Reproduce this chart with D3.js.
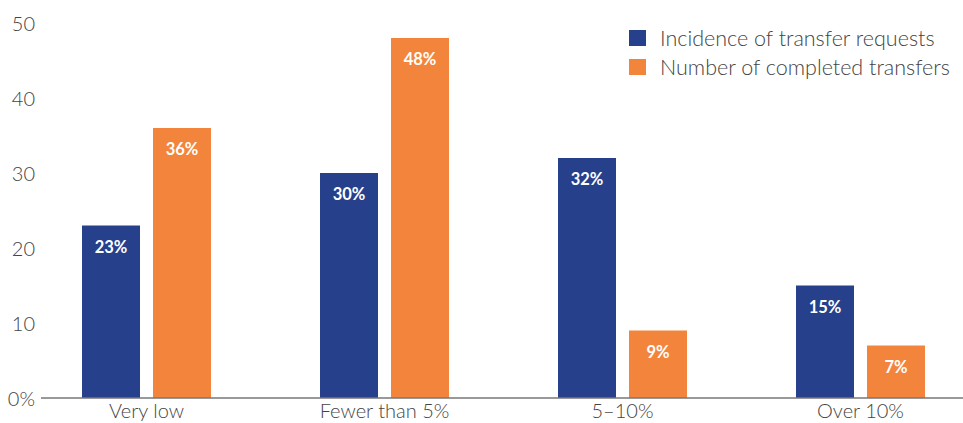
<!DOCTYPE html>
<html>
<head>
<meta charset="utf-8">
<script src="https://cdn.jsdelivr.net/npm/d3@7"></script>
<style>
  html, body { margin: 0; padding: 0; background: #fff; }
  svg { display: block; }
  text { font-family: Lato, "Open Sans", sans-serif; }
</style>
</head>
<body>
<svg id="chart" width="963" height="423"></svg>
<script>
// Share of respondents by transfer rate band
const categories = ["Very low", "Fewer than 5%", "5\u201310%", "Over 10%"];
const seriesNames = ["Incidence of transfer requests", "Number of completed transfers"];
const requests = [23, 30, 32, 15];
const completed = [36, 48, 9, 7];
const yTicks = [0, 10, 20, 30, 40, 50];
const yTickLabels = ["0%", "10", "20", "30", "40", "50"];
const colors = ["#26408b", "#f3843c"];

const svg = d3.select("#chart");
const baseY = 398, topY = 23;

const y = d3.scaleLinear().domain([0, 50]).range([baseY, topY]);

// One band per category, bars paired inside each band
const x = d3.scaleBand().domain(categories).range([27.5, 979.5]).paddingInner(0).paddingOuter(0);
const step = x.bandwidth();
const groupW = 129;
const xs = d3.scaleBand().domain(seriesNames)
  .range([step / 2 - groupW / 2, step / 2 + groupW / 2])
  .paddingInner(13 / 71);

const rows = categories.map((c, i) => ({ cat: c, vals: [requests[i], completed[i]] }));

// Y axis labels (no axis line)
const yAxis = d3.axisLeft(y).tickValues(yTicks).tickFormat((d, i) => yTickLabels[i]).tickSize(0).tickPadding(0);
const yg = svg.append("g").attr("transform", "translate(35,0)").call(yAxis);
yg.select(".domain").remove();
yg.selectAll("text")
  .attr("fill", "#444")
  .style("font-size", "20px")
  .style("font-weight", "300")
  .style("font-family", "Lato, sans-serif")
  .attr("dy", "0.35em");

// Bars
const groups = svg.selectAll("g.cat").data(rows).join("g")
  .attr("class", "cat")
  .attr("transform", d => `translate(${x(d.cat)},0)`);

const cells = d => d.vals.map((v, j) => ({ v, s: seriesNames[j], j }));

groups.selectAll("rect").data(cells).join("rect")
  .attr("x", d => xs(d.s))
  .attr("width", xs.bandwidth())
  .attr("y", d => y(d.v))
  .attr("height", d => baseY - y(d.v))
  .attr("fill", d => colors[d.j]);

groups.selectAll("text.val").data(cells).join("text")
  .attr("class", "val")
  .attr("x", d => xs(d.s) + xs.bandwidth() / 2)
  .attr("y", d => y(d.v) + 27)
  .attr("text-anchor", "middle")
  .attr("fill", "#fff")
  .style("font-size", "16.5px")
  .style("font-weight", "700")
  .text(d => d.v + "%");

// X axis line and category labels
const xAxis = d3.axisBottom(x).tickSize(0).tickPadding(6);
const xg = svg.append("g").attr("transform", `translate(0,${baseY})`).call(xAxis);
xg.select(".domain").remove();
xg.append("line").attr("x1", 41).attr("x2", 963).attr("y1", 0).attr("y2", 0)
  .attr("stroke", "#777").attr("stroke-width", 1.3);
xg.selectAll(".tick text")
  .attr("fill", "#444")
  .style("font-size", "20px")
  .style("font-weight", "300")
  .style("font-family", "Lato, sans-serif");

// Legend
const legend = svg.append("g").attr("transform", "translate(629,0)");
const legRows = legend.selectAll("g").data(seriesNames).join("g")
  .attr("transform", (d, i) => `translate(0,${38 + i * 29})`);
legRows.append("rect").attr("x", 0).attr("y", -8).attr("width", 17).attr("height", 16)
  .attr("fill", (d, i) => colors[i]);
legRows.append("text").attr("x", 31).attr("y", 0).attr("dy", "0.35em")
  .attr("fill", "#444").style("font-size", "21.5px").style("font-weight", "300").text(d => d);
</script>
</body>
</html>
